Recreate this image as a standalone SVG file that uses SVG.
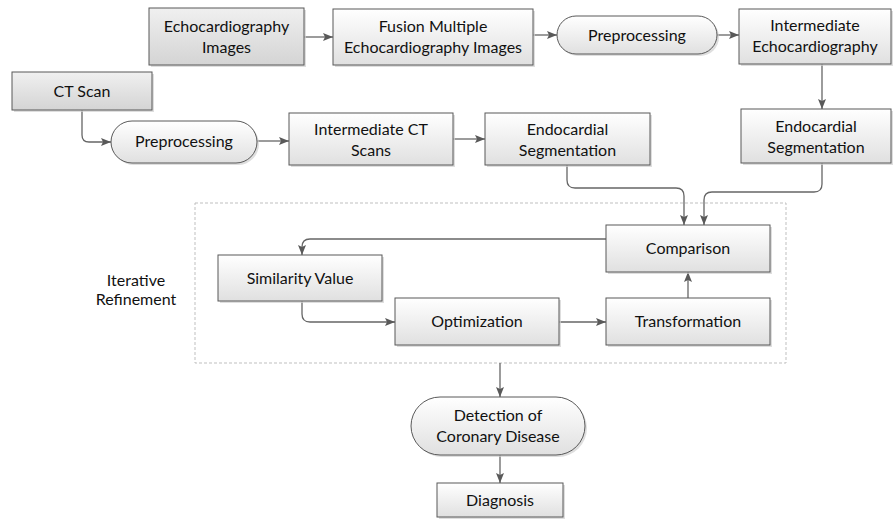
<svg xmlns="http://www.w3.org/2000/svg" width="894" height="520" viewBox="0 0 894 520">
<defs>
<linearGradient id="g" x1="0" y1="0" x2="0" y2="1">
<stop offset="0" stop-color="#ffffff"/>
<stop offset="1" stop-color="#e0e0e0"/>
</linearGradient>
<linearGradient id="gd" x1="0" y1="0" x2="0" y2="1">
<stop offset="0" stop-color="#f0f0f0"/>
<stop offset="1" stop-color="#d4d4d4"/>
</linearGradient>
<marker id="ah" markerWidth="10" markerHeight="10" viewBox="0 0 10 10" refX="10" refY="5" orient="auto" markerUnits="userSpaceOnUse">
<path d="M0,1 L10,5 L0,9 L2,5 Z" fill="#595959"/>
</marker>
<style>
.b{fill:url(#g);stroke:#595959;stroke-width:1}
.bd{fill:url(#gd);stroke:#595959;stroke-width:1}
.sh{fill:#d0d0d0;stroke:none;opacity:0.7}
.t{font-family:Lato,"Open Sans",sans-serif;font-size:16px;fill:#111111;text-anchor:middle}
.c{fill:none;stroke:#666666;stroke-width:1.3}
.a{marker-end:url(#ah)}
</style>
</defs>

<g id="group-refinement">
<rect x="195" y="203" width="591" height="160" fill="none" stroke="#bfbfbf" stroke-width="1" stroke-dasharray="3,2"/>
<text class="t" x="136" y="286">Iterative</text>
<text class="t" x="136" y="305">Refinement</text>
</g>

<g id="connectors">
<path class="c a" d="M304,37 L333,37"/>
<path class="c a" d="M533,35 L557,35"/>
<path class="c a" d="M717,35 L739,35"/>
<path class="c a" d="M822,64 L822,109"/>
<path class="c a" d="M82,110 L82,135 Q82,142 89,142 L111,142"/>
<path class="c a" d="M257,141 L289,141"/>
<path class="c a" d="M453,139 L485,139"/>
<path class="c a" d="M567,165 L567,180 Q567,188 575,188 L676,188 Q684,188 684,196 L684,225"/>
<path class="c a" d="M822,163 L822,184 Q822,192 814,192 L712,192 Q704,192 704,200 L704,225"/>
<path class="c a" d="M606,239 L310,239 Q302,239 302,247 L302,255"/>
<path class="c a" d="M302,301 L302,314 Q302,322 310,322 L395,322"/>
<path class="c a" d="M559,322 L606,322"/>
<path class="c a" d="M688,298 L688,272"/>
<path class="c a" d="M500,363 L500,397"/>
<path class="c a" d="M500,455 L500,483"/>
</g>

<g id="echo-images">
<rect class="sh" x="151" y="10" width="155" height="57"/>
<rect class="bd" x="149" y="8" width="155" height="57"/>
<text class="t" x="226.5" y="32">Echocardiography</text>
<text class="t" x="226.5" y="53">Images</text>
</g>

<g id="fusion">
<rect class="sh" x="335" y="11" width="200" height="56"/>
<rect class="b" x="333" y="9" width="200" height="56"/>
<text class="t" x="433" y="32">Fusion Multiple</text>
<text class="t" x="433" y="53">Echocardiography Images</text>
</g>

<g id="preprocessing-echo">
<rect class="sh" x="559" y="18" width="160" height="38" rx="19"/>
<rect class="b" x="557" y="16" width="160" height="38" rx="19"/>
<text class="t" x="637" y="40.5">Preprocessing</text>
</g>

<g id="intermediate-echo">
<rect class="sh" x="741" y="11" width="152" height="55"/>
<rect class="b" x="739" y="9" width="152" height="55"/>
<text class="t" x="815" y="31">Intermediate</text>
<text class="t" x="815" y="52">Echocardiography</text>
</g>

<g id="endo-seg-echo">
<rect class="sh" x="743" y="111" width="150" height="54"/>
<rect class="b" x="741" y="109" width="150" height="54"/>
<text class="t" x="816" y="132">Endocardial</text>
<text class="t" x="816" y="153">Segmentation</text>
</g>

<g id="ct-scan">
<rect class="sh" x="14" y="74" width="140" height="38"/>
<rect class="bd" x="12" y="72" width="140" height="38"/>
<text class="t" x="82" y="96.5">CT Scan</text>
</g>

<g id="preprocessing-ct">
<rect class="sh" x="113" y="123" width="146" height="42" rx="21"/>
<rect class="b" x="111" y="121" width="146" height="42" rx="21"/>
<text class="t" x="184" y="147">Preprocessing</text>
</g>

<g id="intermediate-ct">
<rect class="sh" x="291" y="115" width="164" height="52"/>
<rect class="b" x="289" y="113" width="164" height="52"/>
<text class="t" x="371" y="135">Intermediate CT</text>
<text class="t" x="371" y="156">Scans</text>
</g>

<g id="endo-seg-ct">
<rect class="sh" x="487" y="115" width="165" height="52"/>
<rect class="b" x="485" y="113" width="165" height="52"/>
<text class="t" x="567.5" y="135">Endocardial</text>
<text class="t" x="567.5" y="156">Segmentation</text>
</g>

<g id="comparison">
<rect class="sh" x="608" y="227" width="164" height="47"/>
<rect class="b" x="606" y="225" width="164" height="47"/>
<text class="t" x="688" y="254">Comparison</text>
</g>

<g id="similarity">
<rect class="sh" x="220" y="257" width="164" height="46"/>
<rect class="b" x="218" y="255" width="164" height="46"/>
<text class="t" x="300" y="283.5">Similarity Value</text>
</g>

<g id="optimization">
<rect class="sh" x="397" y="300" width="164" height="47"/>
<rect class="b" x="395" y="298" width="164" height="47"/>
<text class="t" x="477" y="327">Optimization</text>
</g>

<g id="transformation">
<rect class="sh" x="608" y="300" width="164" height="47"/>
<rect class="b" x="606" y="298" width="164" height="47"/>
<text class="t" x="688" y="327">Transformation</text>
</g>

<g id="detection">
<rect class="sh" x="413" y="399" width="174" height="58" rx="29"/>
<rect class="b" x="411" y="397" width="174" height="58" rx="29"/>
<text class="t" x="498" y="421">Detection of</text>
<text class="t" x="498" y="442">Coronary Disease</text>
</g>

<g id="diagnosis">
<rect class="sh" x="439" y="485" width="126" height="34"/>
<rect class="b" x="437" y="483" width="126" height="34"/>
<text class="t" x="500" y="505.5">Diagnosis</text>
</g>
</svg>
